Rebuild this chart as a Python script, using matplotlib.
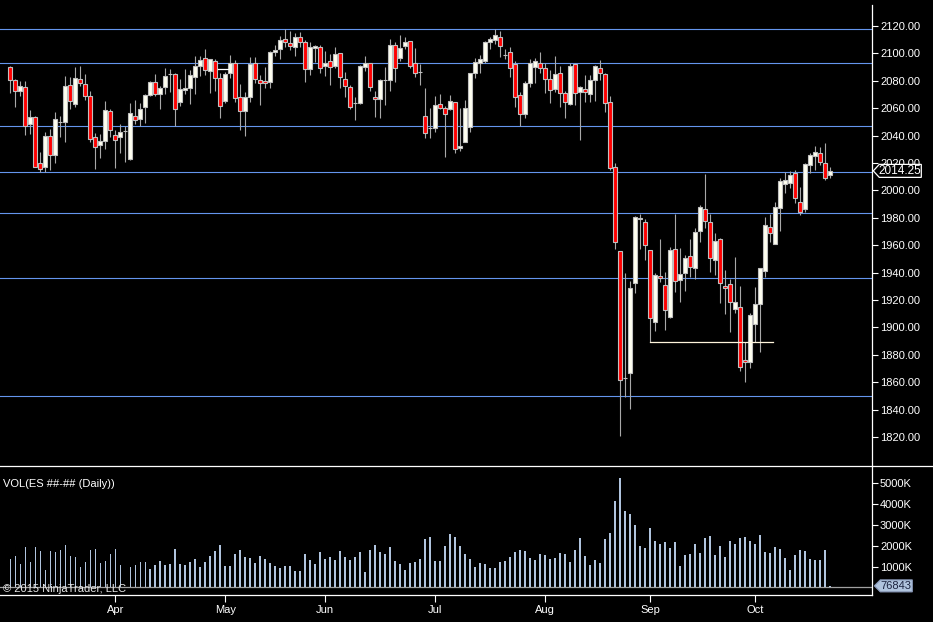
import numpy as np
import matplotlib.pyplot as plt
from matplotlib.lines import Line2D
from matplotlib.patches import Polygon
from matplotlib.transforms import IdentityTransform
from matplotlib.ticker import FuncFormatter

plt.rcParams['font.family'] = ['Liberation Sans', 'DejaVu Sans']

# ES daily bars, Mar 3 - Oct 20 2015
opens = [2089.9, 2080.4, 2072.3, 2075.3, 2048.7, 2053.4, 2019.8, 2017.3, 2039.5, 2026.1,
         2049.7, 2049.7, 2076.7, 2062.8, 2081.1, 2077.4, 2068.7, 2039.2, 2032.9, 2035.8,
         2057.7, 2040.7, 2038.8, 2043.4, 2022.7, 2054.6, 2051.9, 2061.1, 2069.4, 2078.9,
         2070.4, 2075.3, 2084.7, 2084.7, 2064.3, 2073.1, 2075.0, 2082.6, 2090.6, 2096.4,
         2086.9, 2094.2, 2081.8, 2065.3, 2085.5, 2092.8, 2068.4, 2058.0, 2068.4, 2093.3,
         2080.8, 2079.6, 2079.4, 2100.8, 2103.0, 2110.3, 2107.9, 2104.4, 2112.2, 2108.1,
         2088.9, 2103.7, 2104.9, 2090.6, 2094.2, 2090.6, 2100.1, 2081.6, 2075.3, 2063.6,
         2064.1, 2089.9, 2092.8, 2068.0, 2066.5, 2080.6, 2080.6, 2105.9, 2096.9, 2105.4,
         2108.8, 2092.8, 2086.7, 2054.6, 2045.3, 2045.3, 2062.8, 2059.9, 2059.2, 2064.3,
         2030.7, 2035.6, 2046.1, 2085.5, 2093.3, 2094.7, 2108.1, 2109.8, 2112.2, 2099.1,
         2100.8, 2092.0, 2069.4, 2055.9, 2078.7, 2090.3, 2092.8, 2089.6, 2081.6, 2073.8,
         2085.5, 2070.9, 2063.4, 2092.0, 2071.6, 2074.0, 2070.1, 2080.6, 2089.1, 2085.0,
         2064.5, 2016.8, 1955.5, 1862.8, 1866.5, 1932.2, 1978.9, 1976.7, 1956.3, 1903.7,
         1937.8, 1931.2, 1907.4, 1957.0, 1934.6, 1940.0, 1952.4, 1943.1, 1970.4, 1986.7,
         1976.7, 1949.0, 1964.3, 1930.5, 1931.5, 1913.2, 1915.1, 1876.2, 1874.5, 1902.3,
         1916.8, 1941.2, 1973.1, 1960.6, 1987.4, 2004.4, 2005.2, 2012.5, 1991.3, 1986.2,
         2018.6, 2025.1, 2027.1, 2019.8, 2011.0]
highs = [2091.1, 2081.0, 2079.9, 2079.9, 2058.7, 2054.1, 2028.0, 2042.6, 2045.1, 2057.2,
         2054.1, 2083.5, 2082.8, 2090.1, 2090.8, 2085.0, 2072.6, 2042.2, 2041.2, 2065.3,
         2059.7, 2043.9, 2048.5, 2047.0, 2063.6, 2066.0, 2063.6, 2070.4, 2079.9, 2085.0,
         2076.5, 2089.1, 2088.4, 2085.5, 2081.1, 2088.4, 2087.9, 2098.1, 2098.1, 2103.2,
         2095.7, 2095.9, 2085.5, 2086.7, 2098.8, 2095.2, 2077.7, 2072.1, 2097.1, 2097.1,
         2084.3, 2089.9, 2101.8, 2106.2, 2112.7, 2117.6, 2116.4, 2115.2, 2115.4, 2109.8,
         2108.1, 2106.2, 2106.2, 2102.0, 2099.3, 2104.4, 2100.6, 2086.2, 2077.2, 2068.0,
         2091.6, 2098.1, 2092.8, 2072.8, 2081.1, 2090.3, 2110.5, 2108.3, 2113.4, 2111.7,
         2109.3, 2103.7, 2092.0, 2074.5, 2059.9, 2068.9, 2070.4, 2061.6, 2069.6, 2064.8,
         2059.9, 2066.0, 2085.5, 2096.4, 2098.8, 2109.3, 2111.7, 2117.6, 2116.4, 2103.0,
         2104.9, 2094.7, 2072.1, 2080.1, 2095.7, 2096.9, 2100.8, 2093.3, 2087.9, 2098.1,
         2090.8, 2072.8, 2092.8, 2092.8, 2076.5, 2084.3, 2084.3, 2091.6, 2095.2, 2085.5,
         2068.9, 2019.8, 1955.5, 1939.5, 1933.9, 1981.6, 1982.8, 1979.1, 1956.3, 1940.0,
         1964.3, 1940.4, 1958.9, 1982.8, 1957.7, 1952.9, 1964.3, 1972.8, 1989.4, 2012.0,
         1982.8, 1968.7, 1965.0, 1941.9, 1935.1, 1951.6, 1930.5, 1889.6, 1910.8, 1929.7,
         1943.1, 1980.4, 1982.8, 1991.5, 2009.3, 2013.7, 2014.2, 2014.9, 2002.7, 2020.3,
         2027.1, 2032.4, 2031.9, 2034.4, 2017.3]
lows = [2071.4, 2061.1, 2068.9, 2040.5, 2041.2, 2016.9, 2013.4, 2013.4, 2015.2, 2020.3,
        2039.3, 2035.6, 2059.7, 2061.1, 2076.2, 2066.0, 2035.6, 2015.9, 2023.9, 2030.5,
        2039.3, 2016.6, 2027.1, 2021.0, 2022.2, 2048.2, 2047.0, 2049.5, 2068.9, 2068.9,
        2059.2, 2070.4, 2072.0, 2047.0, 2061.6, 2070.4, 2063.1, 2070.4, 2083.8, 2084.0,
        2071.4, 2072.8, 2052.9, 2063.6, 2081.8, 2064.8, 2044.1, 2039.7, 2064.8, 2078.2,
        2062.4, 2074.5, 2074.5, 2098.1, 2095.7, 2104.4, 2102.5, 2098.1, 2104.9, 2079.4,
        2084.3, 2094.0, 2085.5, 2083.5, 2077.2, 2089.6, 2074.5, 2068.0, 2059.4, 2051.4,
        2063.1, 2087.4, 2072.8, 2053.8, 2053.1, 2062.4, 2072.8, 2079.4, 2094.7, 2103.0,
        2089.1, 2083.0, 2077.0, 2038.0, 2038.0, 2042.9, 2059.2, 2024.6, 2058.7, 2027.1,
        2029.0, 2035.1, 2042.9, 2081.8, 2085.9, 2093.3, 2103.5, 2106.9, 2097.6, 2095.7,
        2082.6, 2060.6, 2047.0, 2052.6, 2075.7, 2078.2, 2085.5, 2070.9, 2063.6, 2072.1,
        2061.1, 2053.1, 2062.4, 2062.4, 2036.8, 2064.8, 2064.8, 2065.3, 2080.6, 2057.5,
        2014.9, 1957.2, 1821.0, 1849.5, 1840.4, 1924.9, 1957.2, 1949.2, 1889.1, 1897.6,
        1932.9, 1898.1, 1906.6, 1926.1, 1918.8, 1926.8, 1937.0, 1935.1, 1962.6, 1972.3,
        1940.7, 1938.3, 1917.6, 1909.8, 1896.9, 1910.8, 1868.4, 1860.4, 1870.1, 1889.6,
        1882.3, 1937.0, 1962.6, 1960.6, 1970.6, 1998.4, 2001.5, 1990.6, 1982.1, 1984.5,
        2012.5, 2014.9, 2018.6, 2007.6, 2008.8]
closes = [2080.4, 2072.3, 2076.0, 2047.0, 2053.4, 2017.3, 2015.4, 2039.5, 2025.6, 2051.9,
          2049.7, 2076.0, 2065.0, 2082.3, 2078.2, 2068.7, 2037.3, 2031.7, 2035.8, 2058.9,
          2043.9, 2036.6, 2042.9, 2043.4, 2056.3, 2051.2, 2059.2, 2069.4, 2079.1, 2070.4,
          2074.5, 2083.3, 2084.7, 2059.2, 2074.3, 2074.5, 2084.0, 2090.6, 2095.0, 2088.1,
          2095.7, 2082.3, 2061.9, 2084.7, 2092.8, 2067.2, 2058.0, 2068.0, 2092.0, 2081.1,
          2078.2, 2078.2, 2100.8, 2102.3, 2109.8, 2108.3, 2105.4, 2111.7, 2108.1, 2088.4,
          2104.4, 2105.2, 2089.1, 2092.8, 2089.9, 2099.6, 2082.6, 2076.0, 2061.1, 2063.6,
          2090.6, 2092.8, 2075.7, 2066.5, 2080.6, 2080.6, 2105.9, 2089.1, 2103.9, 2108.1,
          2090.6, 2085.5, 2086.7, 2041.7, 2045.3, 2062.1, 2059.9, 2055.5, 2065.3, 2030.0,
          2032.4, 2059.9, 2085.5, 2093.5, 2095.7, 2108.1, 2110.3, 2113.2, 2105.7, 2099.1,
          2089.6, 2068.4, 2055.5, 2078.2, 2092.8, 2094.7, 2089.6, 2081.6, 2073.5, 2084.7,
          2070.9, 2064.3, 2090.8, 2071.1, 2075.3, 2071.6, 2080.6, 2090.8, 2085.5, 2063.6,
          2016.1, 1962.1, 1861.6, 1862.8, 1928.5, 1980.4, 1980.1, 1959.9, 1906.6, 1938.3,
          1936.3, 1912.5, 1956.3, 1933.9, 1939.2, 1950.4, 1944.1, 1969.9, 1988.1, 1977.7,
          1950.4, 1963.1, 1932.2, 1928.8, 1918.3, 1918.8, 1871.4, 1874.8, 1909.1, 1916.8,
          1943.1, 1974.5, 1968.7, 1987.7, 2006.6, 2007.4, 2011.0, 1994.2, 1984.0, 2019.0,
          2025.6, 2027.8, 2020.5, 2008.8, 2014.25]
# volume in thousands of contracts
volumes = [1349, 1492, 1111, 1920, 1206, 1920, 1730, 825, 1730, 1682,
           1777, 2016, 1492, 1444, 968, 1206, 1777, 1825, 1159, 1254,
           1587, 1825, 1063, 30, 968, 1063, 1206, 1206, 873, 1063,
           1254, 1063, 1111, 1825, 1111, 1063, 1206, 1349, 968, 1206,
           1492, 1730, 2016, 1016, 1016, 1587, 1777, 1444, 1397, 1159,
           1492, 1349, 1159, 1016, 920, 1016, 1016, 778, 778, 1587,
           1301, 1111, 1682, 1349, 1444, 1301, 1730, 1444, 1301, 1444,
           1682, 730, 1777, 2016, 1682, 1587, 1920, 1254, 1111, 825,
           1159, 1206, 1349, 2301, 2396, 1254, 1254, 1968, 2539, 2396,
           1968, 1587, 1349, 968, 1159, 1111, 920, 920, 1206, 1254,
           1444, 1682, 1777, 1730, 1397, 1301, 1587, 1539, 1349, 1397,
           1635, 1587, 1206, 1777, 2349, 1492, 1063, 1301, 1159, 2301,
           2587, 4158, 5253, 3682, 3539, 2968, 1968, 1873, 2825, 2206,
           2063, 2158, 1873, 2158, 1016, 1539, 1587, 2063, 1635, 2349,
           2444, 1539, 1968, 1444, 2206, 2063, 2349, 2396, 2206, 2063,
           2492, 1682, 1635, 1920, 1825, 1397, 825, 1539, 1777, 1730,
           1349, 1301, 1301, 1777, 76.843]

month_labels = ["Apr", "May", "Jun", "Jul", "Aug", "Sep", "Oct"]
month_starts = [21, 43, 63, 85, 107, 128, 149]
levels = [2117.5, 2092.75, 2046.75, 2013.25, 1983.5, 1936.0, 1850.0]

W, H = 933, 622
fig = plt.figure(figsize=(W / 100, H / 100), dpi=100, facecolor="black")
ax = fig.add_axes([0, (H - 465.7) / H, 872.3 / W, 460.7 / H], facecolor="black")
axv = fig.add_axes([0, (H - 595) / H, 872.3 / W, 129.3 / H], facecolor="black", sharex=ax)

x = np.arange(len(closes))
o = np.array(opens)
c = np.array(closes)
up = c >= o
body_bottom = np.minimum(o, c)
body_height = np.abs(c - o)

for lv in levels:
    ax.axhline(lv, color="#6495ed", lw=0.8, zorder=1)

ax.vlines(x, lows, highs, color="#a8a8a8", lw=0.8, zorder=2)
ax.bar(x[up], body_height[up], bottom=body_bottom[up], width=0.8,
       color="#fffff0", edgecolor="#c0c0c0", lw=0.8, zorder=3)
ax.bar(x[~up], body_height[~up], bottom=body_bottom[~up], width=0.8,
       color="#ff0000", edgecolor="#c0c0c0", lw=0.8, zorder=3)

# hand drawn lines on the chart
ax.plot([128, 152.5], [lows[128], lows[128]], color="#fff5dc", lw=0.9, zorder=4)
ax.plot([41.5, 43.5], [2088.6, 2088.6], color="white", lw=0.9, zorder=4)

ax.set_xlim(-2.06, 172.46)
ax.set_ylim(1799.05, 2135.33)
ax.yaxis.tick_right()
ax.set_yticks(np.arange(1820, 2121, 20))
ax.yaxis.set_major_formatter(FuncFormatter(lambda v, p: f"{v:.2f}"))
ax.tick_params(axis="y", colors="white", direction="out", length=4, width=0.8,
               labelsize=8, pad=1.5)
ax.tick_params(axis="x", bottom=False, labelbottom=False)
for s in ["left", "top", "bottom"]:
    ax.spines[s].set_visible(False)
ax.spines["right"].set_color("white")
ax.spines["right"].set_linewidth(0.9)

# volume panel
axv.bar(x, volumes, width=0.3, color="#b0c4de", zorder=2)
axv.axhline(0, color="#a0a0a0", lw=0.9, zorder=1)
axv.set_ylim(-360, 5827)
axv.yaxis.tick_right()
axv.set_yticks([1000, 2000, 3000, 4000, 5000])
axv.yaxis.set_major_formatter(FuncFormatter(lambda v, p: f"{int(v)}K"))
axv.tick_params(axis="y", colors="white", direction="out", length=4, width=0.8,
                labelsize=8, pad=1.5)
axv.set_xticks(month_starts)
axv.set_xticklabels(month_labels)
axv.tick_params(axis="x", colors="white", direction="out", length=5, width=0.8,
                labelsize=8, pad=2)
for s in ["left", "top"]:
    axv.spines[s].set_visible(False)
for s in ["right", "bottom"]:
    axv.spines[s].set_color("white")
    axv.spines[s].set_linewidth(0.9)

fig.add_artist(Line2D([0, 1], [(H - 465.7) / H] * 2, color="white", lw=0.9))

fig.text(3 / W, 1 - 484 / H, "VOL(ES ##-## (Daily))", color="white", fontsize=8, va="center")
fig.text(3 / W, 1 - 589 / H, "\u00a9 2015 NinjaTrader, LLC", color="#e8e8e8", fontsize=8,
         va="center", zorder=5)

# last value markers on the price scales
xr = ax.transAxes.transform((1, 0))[0]
yp = ax.transData.transform((0, closes[-1]))[1]
fig.add_artist(Polygon([(xr + 1, yp), (xr + 7, yp + 6.5), (xr + 49, yp + 6.5),
                        (xr + 49, yp - 6.5), (xr + 7, yp - 6.5)], closed=True,
                       facecolor="black", edgecolor="white", lw=0.9,
                       transform=IdentityTransform(), zorder=10))
fig.text(xr + 28, yp, f"{closes[-1]:.2f}", color="white", fontsize=8.5, ha="center",
         va="center", transform=IdentityTransform(), zorder=11)

yv = axv.transData.transform((0, volumes[-1]))[1]
fig.add_artist(Polygon([(xr + 2, yv), (xr + 8, yv + 6), (xr + 40, yv + 6),
                        (xr + 40, yv - 6), (xr + 8, yv - 6)], closed=True,
                       facecolor="#b0c4de", edgecolor="#8898b8", lw=0.8,
                       transform=IdentityTransform(), zorder=10))
fig.text(xr + 24, yv, str(int(round(volumes[-1] * 1000))), color="#1c2440", fontsize=8,
         ha="center", va="center", transform=IdentityTransform(), zorder=11)

fig.savefig("out.png", dpi=100, facecolor="black")
